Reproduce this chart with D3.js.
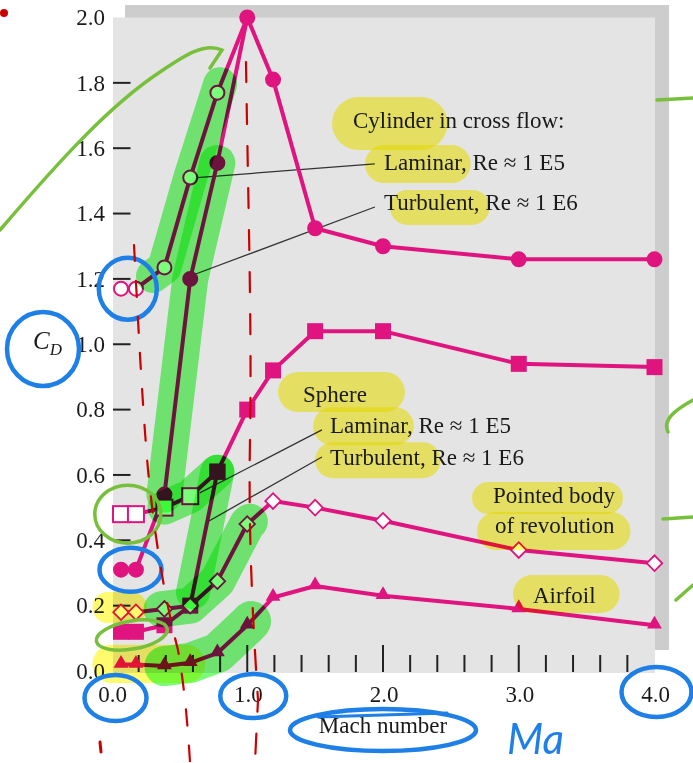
<!DOCTYPE html>
<html><head><meta charset="utf-8">
<script src="https://cdn.jsdelivr.net/npm/d3@7"></script>
<style>
body{margin:0;background:#fff}
svg{display:block}
text{font-family:"Liberation Serif","Times New Roman",serif;fill:#1a1a1a}
.mul{mix-blend-mode:multiply}
</style>
</head><body><svg id="c" width="693" height="763"></svg>
<script>
// ---------------- data ----------------
const machSub = [0.07, 0.18, 0.39, 0.58, 0.78];
const machSup = [1.0, 1.19, 1.5, 2.0, 3.0, 4.0];
const cylinderLaminar   = [1.17, 1.17, 1.235, 1.51, 1.77];
const cylinderTurbulent = [0.31, 0.31, 0.54, 1.20, 1.555];
const cylinderSuper     = [2.0, 1.81, 1.355, 1.30, 1.26, 1.26];
const sphereLaminar     = [0.48, 0.48, 0.50, 0.535, 0.61];
const sphereTurbulent   = [0.12, 0.12, 0.14, 0.20, 0.61];
const sphereSuper       = [0.80, 0.92, 1.04, 1.04, 0.94, 0.93];
const pointedBody       = [0.18, 0.18, 0.19, 0.20, 0.275, 0.45, 0.52, 0.50, 0.46, 0.37, 0.33];
const airfoil           = [0.02, 0.02, 0.015, 0.025, 0.055, 0.14, 0.225, 0.26, 0.23, 0.19, 0.14];
const yTickLabels = ["0.0","0.2","0.4","0.6","0.8","1.0","1.2","1.4","1.6","1.8","2.0"];
const xTickLabels = ["0.0","1.0","2.0","3.0","4.0"];

// ---------------- setup ----------------
const svg = d3.select('#c');
const x = d3.scaleLinear().domain([0,4]).range([111.5,654.5]);
const y = d3.scaleLinear().domain([0,2]).range([671,17.5]);
const MAG = '#e0147f';
const FS = 23;
const machAll = machSub.concat(machSup);
const pts = (ms, vs) => vs.map((v,i)=>[ms[i], v]);

// shadow + plot background
svg.append('rect').attr('x',x(0)+13.5).attr('y',y(2)-12.5).attr('width',x(4)-x(0)+1).attr('height',y(0)-y(2)-8.5).attr('fill','#cdcdcd');
svg.append('rect').attr('x',x(0)+1.5).attr('y',y(2)).attr('width',x(4)-x(0)-1).attr('height',y(0)-y(2)+2).attr('fill','#e4e4e4');

// y ticks
const gA = svg.append('g');
yTickLabels.forEach(l=>{
  const v=+l;
  if(v>0 && v<2) gA.append('line').attr('x1',x(0)+1.5).attr('x2',x(0)+19).attr('y1',y(v)).attr('y2',y(v)).attr('stroke','#222').attr('stroke-width',2);
  gA.append('text').attr('x',105).attr('y',y(v)).attr('dy','0.34em').attr('text-anchor','end').attr('font-size',FS).text(l);
});
// x ticks
d3.range(1,20).forEach(i=>{
  const m=i*0.2, major=(i%5===0);
  gA.append('line').attr('x1',x(m)).attr('x2',x(m)).attr('y1',y(0)+1).attr('y2',y(0)+1-(major?27:17)).attr('stroke','#222').attr('stroke-width',2);
});
xTickLabels.forEach(l=>{
  gA.append('text').attr('x',x(+l)+1).attr('y',702).attr('text-anchor','middle').attr('font-size',FS).text(l);
});
gA.append('text').attr('x',383).attr('y',733).attr('text-anchor','middle').attr('font-size',FS).text('Mach number');
const cd = gA.append('text').attr('x',33).attr('y',349).attr('font-size',25).attr('font-style','italic');
cd.append('tspan').text('C');
cd.append('tspan').attr('font-size',17).attr('dy',6).text('D');

// leader lines (data coords)
const leaders = [
  [[1.94,1.552],[0.63,1.51]],
  [[1.94,1.42],[0.62,1.215]],
  [[1.55,0.738],[0.65,0.545]],
  [[1.55,0.655],[0.705,0.456]]
];
leaders.forEach(l=>svg.append('line').attr('x1',x(l[0][0])).attr('y1',y(l[0][1])).attr('x2',x(l[1][0])).attr('y2',y(l[1][1])).attr('stroke','#333').attr('stroke-width',1.3));

// ---------------- series lines ----------------
const line = d3.line().x(d=>x(d[0])).y(d=>y(d[1]));
const cylLamPts = pts(machSub,cylinderLaminar), cylTurPts = pts(machSub,cylinderTurbulent), cylSupPts = pts(machSup,cylinderSuper);
const sphLamPts = pts(machSub,sphereLaminar), sphTurPts = pts(machSub,sphereTurbulent), sphSupPts = pts(machSup,sphereSuper);
const ptdPts = pts(machAll,pointedBody), airPts = pts(machAll,airfoil);
const paths = [
  cylLamPts.concat([cylSupPts[0]]), cylTurPts.concat([cylSupPts[0]]), cylSupPts,
  sphLamPts.concat(sphSupPts), sphTurPts, ptdPts, airPts
];
const gL = svg.append('g');
paths.forEach(p=>gL.append('path').attr('d',line(p)).attr('fill','none').attr('stroke',MAG).attr('stroke-width',4).attr('stroke-linejoin','round'));

// ---------------- markers ----------------
const gM = svg.append('g');
function circ(p,open){gM.append('circle').attr('cx',x(p[0])).attr('cy',y(p[1])).attr('r',7).attr('fill',open?'#fff':MAG).attr('stroke',MAG).attr('stroke-width',2);}
function sq(p,open){gM.append('rect').attr('x',x(p[0])-8).attr('y',y(p[1])-8).attr('width',16).attr('height',16).attr('fill',open?'#fff':MAG).attr('stroke',MAG).attr('stroke-width',open?2:0);}
function dia(p){gM.append('rect').attr('x',-5.5).attr('y',-5.5).attr('width',11).attr('height',11).attr('transform',`translate(${x(p[0])},${y(p[1])}) rotate(45)`).attr('fill','#fff').attr('stroke',MAG).attr('stroke-width',1.8);}
function tri(p){gM.append('path').attr('d',d3.symbol().type(d3.symbolTriangle).size(95)()).attr('transform',`translate(${x(p[0])},${y(p[1])-1})`).attr('fill',MAG);}
cylLamPts.forEach(p=>circ(p,true));
cylTurPts.forEach(p=>circ(p,false));
cylSupPts.forEach(p=>circ(p,false));
sphTurPts.forEach(p=>sq(p,false));
sphLamPts.forEach((p,i)=>sq(p,i<4));
sphSupPts.forEach(p=>sq(p,false));
ptdPts.forEach(p=>dia(p));
airPts.forEach(p=>tri(p));

// ---------------- label text ----------------
const labels = [
  {t:'Cylinder in cross flow:', m:1.779, v:1.662, n:8,  pl:21, pr:14, up:31, dn:22},
  {t:'Laminar, Re \u2248 1 E5',  m:2.007, v:1.533, n:8,  pl:19, pr:4,  up:25, dn:13},
  {t:'Turbulent, Re \u2248 1 E6',m:2.007, v:1.411, n:10, pl:-6, pr:10, up:20, dn:15},
  {t:'Sphere',                   m:1.411, v:0.823, n:6,  pl:25, pr:38, up:30, dn:10},
  {t:'Laminar, Re \u2248 1 E5',  m:1.61,  v:0.728, n:8,  pl:17, pr:1,  up:26, dn:12},
  {t:'Turbulent, Re \u2248 1 E6',m:1.61,  v:0.630, n:10, pl:15, pr:15, up:23, dn:13},
  {t:'Pointed body',             m:2.81,  v:0.514, n:12, pl:21, pr:8,  up:21, dn:11},
  {t:'of revolution',            m:2.825, v:0.422, n:13, pl:18, pr:16, up:21, dn:17},
  {t:'Airfoil',                  m:3.105, v:0.208, n:7,  pl:20, pr:24, up:28, dn:10}
];
const gHY = svg.append('g');
const gT = svg.append('g');
labels.forEach(L=>{
  const tx = gT.append('text').attr('x',x(L.m)).attr('y',y(L.v)).attr('font-size',FS).text(L.t);
  const w = tx.node().getSubStringLength(0,L.n);
  const h = L.up+L.dn;
  gHY.append('rect').attr('class','mul').attr('x',x(L.m)-L.pl).attr('y',y(L.v)-L.up).attr('width',w+L.pl+L.pr).attr('height',h).attr('rx',h/2).attr('fill','#fffa6e');
});
// extra yellow blobs (data coords)
[[-0.14,0.262,0.147,0.242],[-0.14,0.69,-0.037,0.08]].forEach(b=>{
  gHY.append('rect').attr('class','mul').attr('x',x(b[0])).attr('y',y(b[3])).attr('width',x(b[1])-x(b[0])).attr('height',y(b[2])-y(b[3])).attr('rx',(y(b[2])-y(b[3]))/2).attr('fill','#fffa6e');
});

// ---------------- green highlighter along subsonic parts ----------------
function seg(P, a, b){
  const at = t => { let i=Math.max(0,Math.min(P.length-2,Math.floor(t))); const f=t-i; return [P[i][0]+(P[i+1][0]-P[i][0])*f, P[i][1]+(P[i+1][1]-P[i][1])*f]; };
  const out=[at(a)];
  for(let i=Math.ceil(a);i<b;i++) if(i>a) out.push(P[i]);
  out.push(at(b));
  return out;
}
const greens = [
  [cylLamPts, 1.6, 4.1, 34],
  [cylTurPts, 2.0, 4.0, 36],
  [sphLamPts, 2.0, 4.0, 34],
  [sphTurPts, 3.1, 4.0, 34],
  [ptdPts,    1.9, 5.1, 36],
  [airPts,    2.0, 5.15, 40]
];
const gG = svg.append('g');
greens.forEach(g=>gG.append('path').attr('class','mul').attr('d',line(seg(g[0],g[1],g[2]))).attr('fill','none').attr('stroke','#7bfc7b').attr('stroke-width',g[3]).attr('stroke-linecap','round').attr('stroke-linejoin','round'));

// ---------------- pen annotations ----------------
const gP = svg.append('g').attr('fill','none').attr('stroke-linecap','round');
const BLUE='#1e7fe6', GREENPEN='#78c03c', RED='#cc0000';
function ell(cx,cy,rx,ry,col,w){gP.append('ellipse').attr('cx',cx).attr('cy',cy).attr('rx',rx).attr('ry',ry).attr('stroke',col).attr('stroke-width',w);}
ell(x(0)+4,698,31,23,BLUE,4.5);
ell(x(1)+6,696,33,22,BLUE,4.5);
ell(x(4)+2,692,35,25,BLUE,4.5);
ell(43,349,36,37,BLUE,4.5);
ell(x(0.12),y(1.17),29,31,BLUE,4.5);
ell(x(0.14),y(0.31),31,22,BLUE,4.5);
ell(383,730,93,21,BLUE,4.5);
gP.append('line').attr('x1',318).attr('y1',717).attr('x2',447).attr('y2',713).attr('stroke',BLUE).attr('stroke-width',3);
svg.append('text').attr('x',507).attr('y',754).attr('font-size',42).attr('font-style','italic').style('fill',BLUE).style('font-family','Lato, sans-serif').text('Ma');
// green pen
gP.append('path').attr('d','M0,230 C60,160 110,105 160,72 C185,55 205,42 222,50 L210,68').attr('stroke',GREENPEN).attr('stroke-width',3.5);
ell(x(0.12),y(0.48),33,29,GREENPEN,3.5);
gP.append('ellipse').attr('cx',x(0.15)).attr('cy',y(0.11)).attr('rx',36).attr('ry',14).attr('transform',`rotate(-10 ${x(0.15)} ${y(0.11)})`).attr('stroke',GREENPEN).attr('stroke-width',3.5);
gP.append('path').attr('d','M657,100 L693,98').attr('stroke',GREENPEN).attr('stroke-width',3.5);
gP.append('path').attr('d','M693,400 C675,410 662,420 668,432').attr('stroke',GREENPEN).attr('stroke-width',3.5);
gP.append('path').attr('d','M663,519 L693,517').attr('stroke',GREENPEN).attr('stroke-width',3.5);
gP.append('path').attr('d','M676,600 L693,585').attr('stroke',GREENPEN).attr('stroke-width',3.5);
// red pen dashes
gP.append('path').attr('d','M134,245 C138,320 142,400 148,470 C155,540 165,600 178,650 C185,690 188,730 190,762').attr('stroke',RED).attr('stroke-width',2.2).attr('stroke-dasharray','16,20');
gP.append('path').attr('d','M246,62 C248,200 252,330 250,440 C248,540 254,640 258,700 L255,762').attr('stroke',RED).attr('stroke-width',2.2).attr('stroke-dasharray','20,22');
svg.append('circle').attr('cx',4).attr('cy',13).attr('r',4).attr('fill',RED);
gP.append('path').attr('d','M100,742 L101,752').attr('stroke',RED).attr('stroke-width',3);
</script></body></html>
